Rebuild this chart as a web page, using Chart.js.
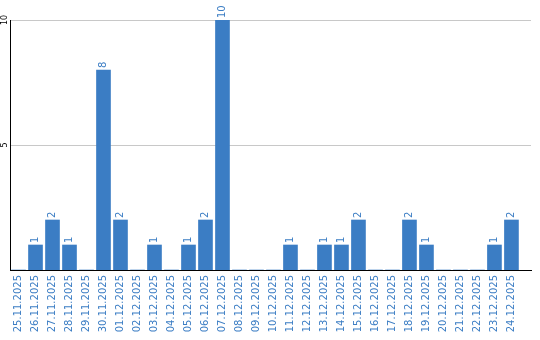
<!DOCTYPE html>
<html>
<head>
<meta charset="utf-8">
<script src="https://cdn.jsdelivr.net/npm/chart.js@4.4.1/dist/chart.umd.min.js"></script>
<style>
  body { margin: 0; background: #fff; }
  canvas { display: block; }
</style>
</head>
<body>
<canvas id="myChart" width="540" height="340"></canvas>
<script>
const dates = ['25.11.2025', '26.11.2025', '27.11.2025', '28.11.2025', '29.11.2025', '30.11.2025',
  '01.12.2025', '02.12.2025', '03.12.2025', '04.12.2025', '05.12.2025', '06.12.2025', '07.12.2025',
  '08.12.2025', '09.12.2025', '10.12.2025', '11.12.2025', '12.12.2025', '13.12.2025', '14.12.2025',
  '15.12.2025', '16.12.2025', '17.12.2025', '18.12.2025', '19.12.2025', '20.12.2025', '21.12.2025',
  '22.12.2025', '23.12.2025', '24.12.2025'];
const counts = [0, 1, 2, 1, 0, 8, 2, 0, 1, 0, 1, 2, 10, 0, 0, 0, 1, 0, 1, 1, 2, 0, 0, 2, 1, 0, 0, 0, 1, 2];
const yTicks = [5, 10];

const blue = '#3b7dc4';

// zahlen über den balken, senkrecht
const valueLabels = {
  id: 'valueLabels',
  afterDatasetsDraw(chart) {
    const ctx = chart.ctx;
    const meta = chart.getDatasetMeta(0);
    ctx.save();
    ctx.fillStyle = blue;
    ctx.font = '10px "DejaVu Sans"';
    ctx.textAlign = 'left';
    ctx.textBaseline = 'middle';
    meta.data.forEach((bar, i) => {
      if (!counts[i]) return;
      ctx.save();
      ctx.translate(bar.x, bar.y - 2);
      ctx.rotate(-Math.PI / 2);
      ctx.fillText(String(counts[i]), 0, 0);
      ctx.restore();
    });
    ctx.restore();
  }
};

new Chart(document.getElementById('myChart'), {
  type: 'bar',
  data: {
    datasets: [{
      data: counts.map((v, i) => ({ x: i, y: v })),
      backgroundColor: blue,
      barThickness: 14
    }]
  },
  plugins: [valueLabels],
  options: {
    responsive: false,
    animation: false,
    layout: { padding: { top: 20, right: 9 } },
    plugins: { legend: { display: false }, tooltip: { enabled: false } },
    scales: {
      x: {
        type: 'linear',
        offset: false,
        min: -0.5,
        max: 30.15,
        afterBuildTicks: (s) => { s.ticks = dates.map((d, i) => ({ value: i })); },
        afterFit: (s) => { s.height = 70; s.paddingLeft = 0; s.paddingRight = 0; },
        grid: { display: false, drawTicks: false, offset: false },
        border: { display: true, color: '#000', width: 1 },
        ticks: {
          autoSkip: false,
          minRotation: 90,
          maxRotation: 90,
          padding: 5,
          color: blue,
          font: { family: 'DejaVu Sans', size: 10 },
          callback: (v) => dates[v]
        }
      },
      y: {
        min: 0,
        max: 10,
        afterBuildTicks: (s) => { s.ticks = yTicks.map(v => ({ value: v })); },
        afterFit: (s) => { s.width = 10; s.paddingTop = 0; s.paddingBottom = 0; },
        grid: { color: '#c8c8c8', drawTicks: false },
        border: { display: true, color: '#000', width: 1 },
        ticks: {
          minRotation: 90,
          maxRotation: 90,
          crossAlign: 'center',
          padding: 0,
          color: '#000',
          font: { family: 'DejaVu Sans', size: 8 }
        }
      }
    }
  }
});
</script>
</body>
</html>
